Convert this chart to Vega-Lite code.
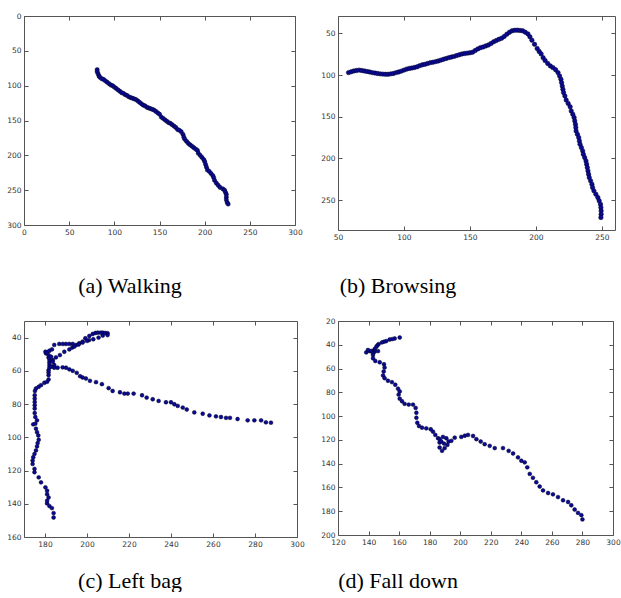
{
"$schema": "https://vega.github.io/schema/vega-lite/v6.json",
"padding": {"left": 6, "top": 11, "right": 2, "bottom": 0},
"background": "white",
"columns": 2,
"spacing": {"row": 91, "column": 41},
"bounds": "flush",
"datasets": {
"walking": [{"x":81,"y":77},{"x":81,"y":80},{"x":82,"y":83},{"x":83,"y":86},{"x":84,"y":88},{"x":86,"y":90},{"x":88,"y":91},{"x":90,"y":93},{"x":92,"y":95},{"x":94,"y":97},{"x":96,"y":99},{"x":98,"y":100},{"x":100,"y":102},{"x":102,"y":104},{"x":104,"y":106},{"x":106,"y":108},{"x":108,"y":110},{"x":110,"y":111},{"x":112,"y":113},{"x":114,"y":114},{"x":116,"y":116},{"x":118,"y":117},{"x":120,"y":118},{"x":122,"y":119},{"x":124,"y":120},{"x":126,"y":122},{"x":128,"y":124},{"x":130,"y":126},{"x":132,"y":128},{"x":134,"y":129},{"x":136,"y":131},{"x":138,"y":132},{"x":140,"y":133},{"x":142,"y":134},{"x":144,"y":135},{"x":146,"y":137},{"x":148,"y":139},{"x":150,"y":141},{"x":152,"y":145},{"x":154,"y":147},{"x":156,"y":149},{"x":158,"y":151},{"x":160,"y":153},{"x":162,"y":154},{"x":164,"y":156},{"x":166,"y":158},{"x":168,"y":160},{"x":170,"y":163},{"x":172,"y":164},{"x":174,"y":166},{"x":176,"y":170},{"x":177,"y":174},{"x":178,"y":177},{"x":180,"y":180},{"x":182,"y":183},{"x":184,"y":185},{"x":186,"y":187},{"x":188,"y":189},{"x":190,"y":191},{"x":192,"y":193},{"x":193,"y":197},{"x":195,"y":200},{"x":197,"y":203},{"x":199,"y":206},{"x":200,"y":209},{"x":201,"y":213},{"x":202,"y":217},{"x":203,"y":221},{"x":205,"y":223},{"x":207,"y":226},{"x":209,"y":229},{"x":210,"y":232},{"x":211,"y":236},{"x":213,"y":240},{"x":215,"y":243},{"x":217,"y":246},{"x":220,"y":248},{"x":222,"y":250},{"x":223,"y":253},{"x":224,"y":256},{"x":224,"y":260},{"x":224,"y":264},{"x":225,"y":268},{"x":226,"y":270}],
"browsing": [{"x":58,"y":97},{"x":60,"y":96},{"x":62,"y":95},{"x":64,"y":94.5},{"x":66,"y":94},{"x":68,"y":94.5},{"x":70,"y":95},{"x":72,"y":95.6},{"x":74,"y":96.2},{"x":76,"y":97},{"x":78,"y":97.5},{"x":80,"y":98},{"x":82,"y":98.5},{"x":84,"y":98.8},{"x":86,"y":99},{"x":88,"y":99},{"x":90,"y":98.5},{"x":92,"y":98},{"x":94,"y":97},{"x":96,"y":96.2},{"x":98,"y":95.2},{"x":100,"y":94},{"x":102,"y":92.8},{"x":104,"y":92},{"x":106,"y":91.5},{"x":108,"y":90.8},{"x":110,"y":90},{"x":112,"y":88.6},{"x":114,"y":87.6},{"x":116,"y":87},{"x":118,"y":86},{"x":120,"y":85},{"x":122,"y":84.5},{"x":124,"y":83.8},{"x":126,"y":83},{"x":128,"y":82},{"x":130,"y":81},{"x":132,"y":80},{"x":134,"y":79},{"x":136,"y":78.3},{"x":138,"y":77.5},{"x":140,"y":76.5},{"x":142,"y":75.5},{"x":144,"y":74.6},{"x":146,"y":74},{"x":148,"y":73.6},{"x":150,"y":73.2},{"x":152,"y":72.5},{"x":154,"y":70.5},{"x":156,"y":68.5},{"x":158,"y":67},{"x":160,"y":66.2},{"x":162,"y":65},{"x":164,"y":63.8},{"x":166,"y":62},{"x":168,"y":60},{"x":170,"y":58.5},{"x":172,"y":57},{"x":174,"y":55.8},{"x":176,"y":53.5},{"x":178,"y":50.8},{"x":180,"y":48.5},{"x":182,"y":46.8},{"x":184,"y":46.2},{"x":186,"y":46},{"x":188,"y":46.3},{"x":190,"y":46.8},{"x":192,"y":48.5},{"x":194,"y":50.5},{"x":195.5,"y":54},{"x":197,"y":58},{"x":199,"y":63},{"x":201,"y":68},{"x":202.5,"y":71.5},{"x":204,"y":74.5},{"x":205.5,"y":79},{"x":207,"y":82.5},{"x":209,"y":86},{"x":211,"y":89},{"x":213,"y":91},{"x":215,"y":93.5},{"x":216.8,"y":97},{"x":218,"y":101},{"x":219,"y":105},{"x":219.5,"y":109},{"x":220,"y":113},{"x":220.5,"y":117},{"x":221,"y":121},{"x":222,"y":125},{"x":223,"y":130},{"x":224.5,"y":134},{"x":226,"y":138},{"x":226.8,"y":143},{"x":228,"y":147},{"x":229,"y":151},{"x":229.5,"y":155},{"x":230,"y":159},{"x":230.3,"y":163},{"x":230.5,"y":167},{"x":231.5,"y":171},{"x":232.5,"y":175},{"x":233,"y":179},{"x":233.5,"y":183},{"x":234.5,"y":187},{"x":235.5,"y":191},{"x":236,"y":195},{"x":237,"y":199},{"x":238,"y":203},{"x":238.5,"y":207},{"x":239,"y":211},{"x":239.5,"y":215},{"x":240,"y":219},{"x":240.5,"y":223},{"x":241.5,"y":227},{"x":242.5,"y":231},{"x":243,"y":235},{"x":244,"y":239},{"x":245.5,"y":243},{"x":247,"y":247},{"x":248,"y":251},{"x":249,"y":255},{"x":249.3,"y":259},{"x":249.5,"y":263},{"x":249.5,"y":267},{"x":249.3,"y":271}],
"leftbag": [{"x":184.1,"y":148.3},{"x":184.1,"y":145.6},{"x":183.3,"y":142.6},{"x":182.1,"y":141.4},{"x":181,"y":139.8},{"x":181,"y":138.2},{"x":181.7,"y":136.2},{"x":181,"y":134.2},{"x":181,"y":132.1},{"x":180.2,"y":130.1},{"x":178.1,"y":127.1},{"x":177,"y":124.1},{"x":175,"y":121},{"x":175,"y":119},{"x":174.1,"y":116},{"x":174.1,"y":114},{"x":174.4,"y":112},{"x":175,"y":110},{"x":175.7,"y":107.9},{"x":176.2,"y":105.5},{"x":176.5,"y":103.5},{"x":177,"y":101.5},{"x":176.8,"y":98.9},{"x":176.2,"y":96.9},{"x":175.7,"y":94.8},{"x":174.4,"y":92.2},{"x":175.4,"y":91.8},{"x":176.2,"y":89.8},{"x":175.4,"y":87.8},{"x":175.1,"y":85.4},{"x":175.1,"y":82.7},{"x":175.1,"y":80.7},{"x":175.1,"y":78.7},{"x":175.1,"y":76.7},{"x":175.1,"y":74.7},{"x":175.2,"y":72.1},{"x":175.7,"y":70.6},{"x":177,"y":69.6},{"x":178.1,"y":68.6},{"x":179.7,"y":67.2},{"x":181,"y":66.6},{"x":181.7,"y":65.2},{"x":181.7,"y":62.6},{"x":181.7,"y":61},{"x":181.7,"y":59.6},{"x":182.1,"y":58},{"x":182.1,"y":56.5},{"x":182.1,"y":55},{"x":182.1,"y":53.5},{"x":181.7,"y":52},{"x":181.7,"y":50.5},{"x":180.5,"y":49.5},{"x":180.2,"y":48.5},{"x":181,"y":48.8},{"x":182.1,"y":47.9},{"x":183.3,"y":47.1},{"x":184.4,"y":44.4},{"x":186.8,"y":43.8},{"x":188.5,"y":43.8},{"x":190,"y":43.8},{"x":191.6,"y":43.8},{"x":193.2,"y":43.8},{"x":194.8,"y":44.4},{"x":196.3,"y":43.4},{"x":197.9,"y":42.4},{"x":199.2,"y":40.4},{"x":201.1,"y":39},{"x":202.7,"y":37.8},{"x":204,"y":37.2},{"x":205.1,"y":37},{"x":206.5,"y":37},{"x":207.5,"y":37},{"x":208.7,"y":37.2},{"x":209.8,"y":37.4},{"x":209.8,"y":38.5},{"x":207.5,"y":38.8},{"x":205.5,"y":40},{"x":203,"y":41},{"x":201,"y":41.5},{"x":200,"y":42},{"x":183.7,"y":53.5},{"x":185.2,"y":51.9},{"x":187.1,"y":50.5},{"x":189.2,"y":48.5},{"x":191.6,"y":47.1},{"x":193,"y":46},{"x":194,"y":45.4},{"x":196,"y":44.2},{"x":197.9,"y":43},{"x":182.9,"y":51.5},{"x":183.7,"y":54.5},{"x":184.4,"y":56.5},{"x":183,"y":57.5},{"x":184.4,"y":58.1},{"x":186,"y":58.1},{"x":188.4,"y":57.9},{"x":190,"y":58.1},{"x":191.6,"y":59.1},{"x":193.2,"y":60},{"x":195.1,"y":61.2},{"x":196.7,"y":63.2},{"x":197.9,"y":64},{"x":199.5,"y":64.6},{"x":201.4,"y":66},{"x":204.3,"y":66.8},{"x":207.1,"y":68},{"x":210.3,"y":70.4},{"x":212.2,"y":72.1},{"x":215.7,"y":72.9},{"x":217.8,"y":73.7},{"x":219.4,"y":73.7},{"x":222.2,"y":73.7},{"x":226.2,"y":74.7},{"x":228.4,"y":76.1},{"x":231.3,"y":77.1},{"x":234.1,"y":78.1},{"x":237.6,"y":78.9},{"x":240,"y":78.9},{"x":241.6,"y":80.1},{"x":243.2,"y":81.1},{"x":245.6,"y":82.1},{"x":247.5,"y":83.3},{"x":251.1,"y":85},{"x":255.1,"y":85.8},{"x":258.3,"y":86.8},{"x":261.4,"y":87.4},{"x":263.8,"y":87.8},{"x":266.2,"y":88.3},{"x":268.1,"y":88.3},{"x":271.7,"y":89},{"x":276.5,"y":89.8},{"x":279.7,"y":89.8},{"x":282.9,"y":89.8},{"x":285.2,"y":91},{"x":287.6,"y":91.2}],
"falldown": [{"x":160.4,"y":33.9},{"x":157.1,"y":34.7},{"x":155.5,"y":35.2},{"x":153.8,"y":35.6},{"x":151.6,"y":36.9},{"x":150.2,"y":37.4},{"x":148.8,"y":38},{"x":146.6,"y":39.4},{"x":145.8,"y":40.5},{"x":145.1,"y":41.7},{"x":144,"y":43.6},{"x":142.9,"y":45.3},{"x":140.7,"y":45.3},{"x":138.5,"y":46.4},{"x":139.6,"y":44.4},{"x":141.8,"y":45.3},{"x":144,"y":45.8},{"x":146.2,"y":45.3},{"x":142.9,"y":47},{"x":142.9,"y":48.6},{"x":142.9,"y":51.4},{"x":144.4,"y":53.6},{"x":147.3,"y":54.7},{"x":150.1,"y":56.4},{"x":150.5,"y":59.2},{"x":149.9,"y":62.5},{"x":149.5,"y":65.8},{"x":150.5,"y":68.1},{"x":152.7,"y":70.3},{"x":155.3,"y":71.4},{"x":157.5,"y":73.6},{"x":159.3,"y":76.9},{"x":160.4,"y":79.2},{"x":159.7,"y":81.9},{"x":160.4,"y":85.3},{"x":161.9,"y":87.5},{"x":163.6,"y":89.7},{"x":166.3,"y":90.3},{"x":169.1,"y":90.3},{"x":170.8,"y":93.1},{"x":171.3,"y":97.2},{"x":171.3,"y":101.4},{"x":171.9,"y":105.6},{"x":173,"y":108.3},{"x":175,"y":109.7},{"x":177.8,"y":110.3},{"x":180.7,"y":111.1},{"x":182.2,"y":113.1},{"x":183.7,"y":115.8},{"x":185.5,"y":118.6},{"x":186.5,"y":122.2},{"x":186.5,"y":126.4},{"x":188.1,"y":129.2},{"x":189.8,"y":126.9},{"x":191.6,"y":124.2},{"x":192.4,"y":121.4},{"x":190.9,"y":118.6},{"x":188.7,"y":117.5},{"x":186.5,"y":119.4},{"x":187.6,"y":121.4},{"x":189.4,"y":123.1},{"x":194.2,"y":120.8},{"x":196.4,"y":118.1},{"x":200.7,"y":117.5},{"x":203,"y":116.5},{"x":205.1,"y":115.8},{"x":208.4,"y":116.7},{"x":210.6,"y":119.4},{"x":213.4,"y":121.4},{"x":216,"y":123.6},{"x":219.3,"y":125},{"x":222.6,"y":126.9},{"x":228,"y":126.9},{"x":231.7,"y":129.2},{"x":234.6,"y":131.4},{"x":237.8,"y":134.7},{"x":240,"y":137.5},{"x":242.2,"y":138.9},{"x":243.9,"y":143.1},{"x":245.5,"y":148.6},{"x":247.6,"y":151.9},{"x":249.8,"y":155.6},{"x":252,"y":159.2},{"x":254.2,"y":162.5},{"x":257.5,"y":164.7},{"x":260.7,"y":165.8},{"x":264,"y":168.1},{"x":267.3,"y":170.8},{"x":270.6,"y":172.2},{"x":272.7,"y":175},{"x":274.9,"y":178.6},{"x":277.1,"y":181.4},{"x":279.3,"y":183.3},{"x":280,"y":186.9}]
},
"concat": [
{
"width": 271, "height": 209,
"data": {"name": "walking"},
"title": {"text": "(a) Walking", "orient": "bottom", "frame": "group", "anchor": "middle", "dx": -29.5, "offset": 40, "font": "Liberation Serif", "fontSize": 22, "fontWeight": "normal", "color": "#000000"},
"layer": [
{"mark": {"type": "circle", "size": 18, "fill": "#0a0a96", "stroke": "#000022", "strokeWidth": 0.5, "opacity": 1},
"encoding": {
"x": {"field": "x", "type": "quantitative", "title": null, "scale": {"domain": [0, 300], "nice": false, "zero": false}, "axis": {"values": [0, 50, 100, 150, 200, 250, 300]}},
"y": {"field": "y", "type": "quantitative", "title": null, "scale": {"domain": [0, 300], "nice": false, "zero": false, "reverse": true}, "axis": {"values": [0, 50, 100, 150, 200, 250, 300]}}}},
{"mark": {"type": "circle", "opacity": 0},
"encoding": {
"x": {"field": "x", "type": "quantitative", "title": null, "scale": {"domain": [0, 300], "nice": false, "zero": false}, "axis": {"orient": "top", "labels": false, "values": [0, 50, 100, 150, 200, 250, 300]}},
"y": {"field": "y", "type": "quantitative", "title": null, "scale": {"domain": [0, 300], "nice": false, "zero": false, "reverse": true}, "axis": {"orient": "right", "labels": false, "values": [0, 50, 100, 150, 200, 250, 300]}}}}
],
"resolve": {"axis": {"x": "independent", "y": "independent"}}
},
{
"width": 277, "height": 214,
"data": {"name": "browsing"},
"title": {"text": "(b) Browsing", "orient": "bottom", "frame": "group", "anchor": "middle", "dx": -78.5, "offset": 35, "font": "Liberation Serif", "fontSize": 22, "fontWeight": "normal", "color": "#000000"},
"layer": [
{"mark": {"type": "circle", "size": 20, "fill": "#0a0a96", "stroke": "#000022", "strokeWidth": 0.5, "opacity": 1},
"encoding": {
"x": {"field": "x", "type": "quantitative", "title": null, "scale": {"domain": [50, 260], "nice": false, "zero": false}, "axis": {"values": [50, 100, 150, 200, 250]}},
"y": {"field": "y", "type": "quantitative", "title": null, "scale": {"domain": [29, 286], "nice": false, "zero": false, "reverse": true}, "axis": {"values": [50, 100, 150, 200, 250]}}}},
{"mark": {"type": "circle", "opacity": 0},
"encoding": {
"x": {"field": "x", "type": "quantitative", "title": null, "scale": {"domain": [50, 260], "nice": false, "zero": false}, "axis": {"orient": "top", "labels": false, "values": [50, 100, 150, 200, 250]}},
"y": {"field": "y", "type": "quantitative", "title": null, "scale": {"domain": [29, 286], "nice": false, "zero": false, "reverse": true}, "axis": {"orient": "right", "labels": false, "values": [50, 100, 150, 200, 250]}}}}
],
"resolve": {"axis": {"x": "independent", "y": "independent"}}
},
{
"width": 273, "height": 216,
"data": {"name": "leftbag"},
"title": {"text": "(c) Left bag", "orient": "bottom", "frame": "group", "anchor": "middle", "dx": -30.5, "offset": 23, "font": "Liberation Serif", "fontSize": 22, "fontWeight": "normal", "color": "#000000"},
"layer": [
{"mark": {"type": "circle", "size": 15, "fill": "#0a0a96", "stroke": "#000022", "strokeWidth": 0.5, "opacity": 1},
"encoding": {
"x": {"field": "x", "type": "quantitative", "title": null, "scale": {"domain": [170, 300], "nice": false, "zero": false}, "axis": {"values": [180, 200, 220, 240, 260, 280, 300]}},
"y": {"field": "y", "type": "quantitative", "title": null, "scale": {"domain": [30, 160], "nice": false, "zero": false, "reverse": true}, "axis": {"values": [40, 60, 80, 100, 120, 140, 160]}}}},
{"mark": {"type": "circle", "opacity": 0},
"encoding": {
"x": {"field": "x", "type": "quantitative", "title": null, "scale": {"domain": [170, 300], "nice": false, "zero": false}, "axis": {"orient": "top", "labels": false, "values": [180, 200, 220, 240, 260, 280, 300]}},
"y": {"field": "y", "type": "quantitative", "title": null, "scale": {"domain": [30, 160], "nice": false, "zero": false, "reverse": true}, "axis": {"orient": "right", "labels": false, "values": [40, 60, 80, 100, 120, 140, 160]}}}}
],
"resolve": {"axis": {"x": "independent", "y": "independent"}}
},
{
"width": 275, "height": 214,
"data": {"name": "falldown"},
"title": {"text": "(d) Fall down", "orient": "bottom", "frame": "group", "anchor": "middle", "dx": -77.5, "offset": 25, "font": "Liberation Serif", "fontSize": 22, "fontWeight": "normal", "color": "#000000"},
"layer": [
{"mark": {"type": "circle", "size": 15, "fill": "#0a0a96", "stroke": "#000022", "strokeWidth": 0.5, "opacity": 1},
"encoding": {
"x": {"field": "x", "type": "quantitative", "title": null, "scale": {"domain": [120, 300], "nice": false, "zero": false}, "axis": {"values": [120, 140, 160, 180, 200, 220, 240, 260, 280, 300]}},
"y": {"field": "y", "type": "quantitative", "title": null, "scale": {"domain": [20, 200], "nice": false, "zero": false, "reverse": true}, "axis": {"values": [20, 40, 60, 80, 100, 120, 140, 160, 180, 200]}}}},
{"mark": {"type": "circle", "opacity": 0},
"encoding": {
"x": {"field": "x", "type": "quantitative", "title": null, "scale": {"domain": [120, 300], "nice": false, "zero": false}, "axis": {"orient": "top", "labels": false, "values": [120, 140, 160, 180, 200, 220, 240, 260, 280, 300]}},
"y": {"field": "y", "type": "quantitative", "title": null, "scale": {"domain": [20, 200], "nice": false, "zero": false, "reverse": true}, "axis": {"orient": "right", "labels": false, "values": [20, 40, 60, 80, 100, 120, 140, 160, 180, 200]}}}}
],
"resolve": {"axis": {"x": "independent", "y": "independent"}}
}
],
"config": {
"view": {"stroke": "#555555", "strokeWidth": 1},
"axis": {"domain": false, "grid": false, "tickSize": -4, "tickColor": "#555555", "tickWidth": 1, "labelFont": "DejaVu Sans", "labelFontSize": 7.5, "labelColor": "#333333", "labelPadding": 7, "labelFlush": false, "labelOverlap": false}
}
}
